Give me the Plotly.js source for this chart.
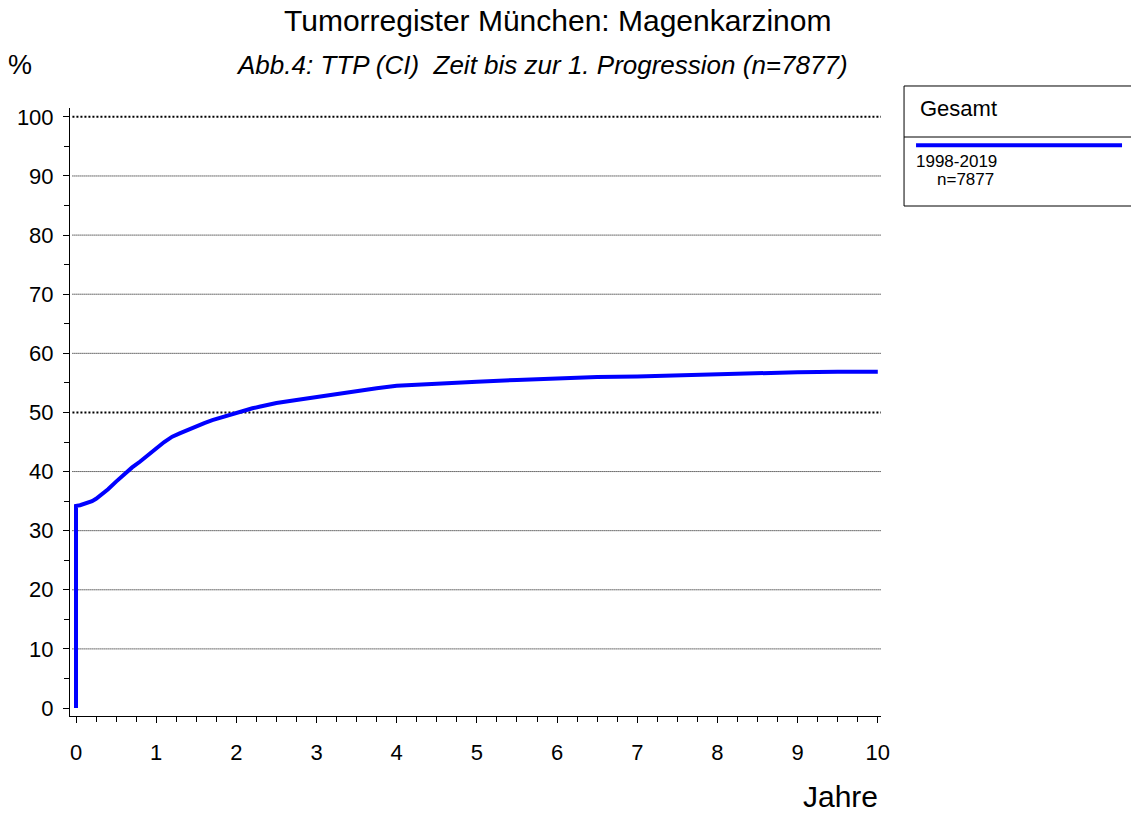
<!DOCTYPE html>
<html>
<head>
<meta charset="utf-8">
<script src="https://cdn.plot.ly/plotly-3.0.1.min.js"></script>
<style>html,body{margin:0;padding:0;background:#fff;}#chart{width:1131px;height:814px;}</style>
</head>
<body>
<div id="chart"></div>
<script>
// Data (years, cumulative incidence %)
const years = [0, 0, 0.05, 0.1, 0.15, 0.2, 0.25, 0.3, 0.4, 0.5, 0.6, 0.7, 0.8, 0.9, 1.0, 1.1, 1.2, 1.3, 1.4, 1.5, 1.6, 1.7, 1.8, 1.9, 2.0, 2.1, 2.2, 2.3, 2.4, 2.5, 2.75, 3.0, 3.25, 3.5, 3.75, 4.0, 4.5, 5.0, 5.5, 6.0, 6.5, 7.0, 7.5, 8.0, 8.5, 9.0, 9.5, 10.0];
const percent = [0, 34.2, 34.3, 34.5, 34.7, 35.0, 35.4, 35.9, 37.0, 38.3, 39.6, 40.7, 41.7, 42.9, 43.9, 45.0, 45.9, 46.5, 47.1, 47.7, 48.2, 48.7, 49.1, 49.6, 50.0, 50.4, 50.7, 51.0, 51.3, 51.6, 52.1, 52.6, 53.2, 53.7, 54.1, 54.5, 54.9, 55.2, 55.5, 55.8, 56.0, 56.1, 56.3, 56.4, 56.6, 56.8, 56.9, 56.9];
const seriesName = "1998-2019";
const seriesN = "n=7877";
const legendHeader = "Gesamt";
const xTicks = [0, 1, 2, 3, 4, 5, 6, 7, 8, 9, 10];
const yTicks = [0, 10, 20, 30, 40, 50, 60, 70, 80, 90, 100];
const gridValues = [10, 20, 30, 40, 60, 70, 80, 90];
const boldGrid = [50, 100];

const FONT = "Liberation Sans, Arial, sans-serif";
const BLUE = "#0000ff";

const trace = {
  x: years, y: percent, type: "scatter", mode: "lines",
  line: {color: BLUE, width: 4}, name: seriesName, showlegend: false,
  hoverinfo: "skip"
};

const shapes = [];
gridValues.forEach(v => shapes.push({
  type: "line", xref: "paper", yref: "y", x0: 0.003, x1: 1, y0: v, y1: v,
  line: {color: "#000", width: 1, dash: "1px,1px"}, layer: "below"
}));
boldGrid.forEach(v => shapes.push({
  type: "line", xref: "paper", yref: "y", x0: 0.003, x1: 1, y0: v, y1: v,
  line: {color: "#000", width: 2, dash: "2px,2px"}, layer: "below"
}));
// legend box
shapes.push({type: "rect", xref: "paper", yref: "paper", x0: 1.0284, x1: 1.33, y0: 0.8388, y1: 1.0362,
  line: {color: "#000", width: 1}, fillcolor: "rgba(0,0,0,0)"});
shapes.push({type: "line", xref: "paper", yref: "paper", x0: 1.0284, x1: 1.33, y0: 0.9523, y1: 0.9523,
  line: {color: "#000", width: 1}});
shapes.push({type: "line", xref: "paper", yref: "paper", x0: 1.0432, x1: 1.2972, y0: 0.9386, y1: 0.9386,
  line: {color: BLUE, width: 4}});

const annotations = [
  {text: "Tumorregister München: Magenkarzinom", xref: "paper", yref: "paper", x: 0.6017, y: 1.1447,
   showarrow: false, font: {family: FONT, size: 30, color: "#000"}, xanchor: "center", yanchor: "middle"},
  {text: "<i>Abb.4: TTP (CI)  Zeit bis zur 1. Progression (n=7877)</i>", xref: "paper", yref: "paper", x: 0.582, y: 1.0707,
   showarrow: false, font: {family: FONT, size: 26, color: "#000"}, xanchor: "center", yanchor: "middle"},
  {text: "%", xref: "paper", yref: "paper", x: -0.0617, y: 1.0707,
   showarrow: false, font: {family: FONT, size: 27, color: "#000"}, xanchor: "center", yanchor: "middle"},
  {text: "Jahre", xref: "paper", yref: "paper", x: 0.9501, y: -0.1332,
   showarrow: false, font: {family: FONT, size: 30, color: "#000"}, xanchor: "center", yanchor: "middle"},
  {text: legendHeader, xref: "paper", yref: "paper", x: 1.0456, y: 0.9984,
   showarrow: false, font: {family: FONT, size: 22, color: "#000"}, xanchor: "left", yanchor: "middle"},
  {text: seriesName, xref: "paper", yref: "paper", x: 1.0410, y: 0.9112,
   showarrow: false, font: {family: FONT, size: 17, color: "#000"}, xanchor: "left", yanchor: "middle"},
  {text: seriesN, xref: "paper", yref: "paper", x: 1.0660, y: 0.8832,
   showarrow: false, font: {family: FONT, size: 17, color: "#000"}, xanchor: "left", yanchor: "middle"}
];

const layout = {
  width: 1131, height: 814,
  margin: {l: 70, r: 250, t: 108, b: 98},
  paper_bgcolor: "#fff", plot_bgcolor: "#fff",
  font: {family: FONT, color: "#000"},
  showlegend: false,
  xaxis: {
    range: [-0.075, 10.04], tickvals: xTicks, ticktext: xTicks.map(String),
    ticks: "outside", ticklen: 6, tickwidth: 1, tickcolor: "#000",
    showline: true, linecolor: "#000", linewidth: 1, showgrid: false, zeroline: false,
    tickfont: {family: FONT, size: 22, color: "#000"}, ticklabelstandoff: 11,
    minor: {dtick: 0.25, tick0: 0, ticks: "outside", ticklen: 5, tickcolor: "#000", showgrid: false}
  },
  yaxis: {
    range: [-1.35, 101.5], tickvals: yTicks, ticktext: yTicks.map(String),
    ticks: "outside", ticklen: 6, tickwidth: 1, tickcolor: "#000",
    showline: true, linecolor: "#000", linewidth: 1,
    showgrid: false, zeroline: false,
    tickfont: {family: FONT, size: 22, color: "#000"}, ticklabelstandoff: 5,
    minor: {dtick: 5, tick0: 0, ticks: "outside", ticklen: 5, tickcolor: "#000", showgrid: false}
  },
  shapes: shapes,
  annotations: annotations
};

Plotly.newPlot("chart", [trace], layout, {staticPlot: true, displayModeBar: false});
</script>
</body>
</html>
